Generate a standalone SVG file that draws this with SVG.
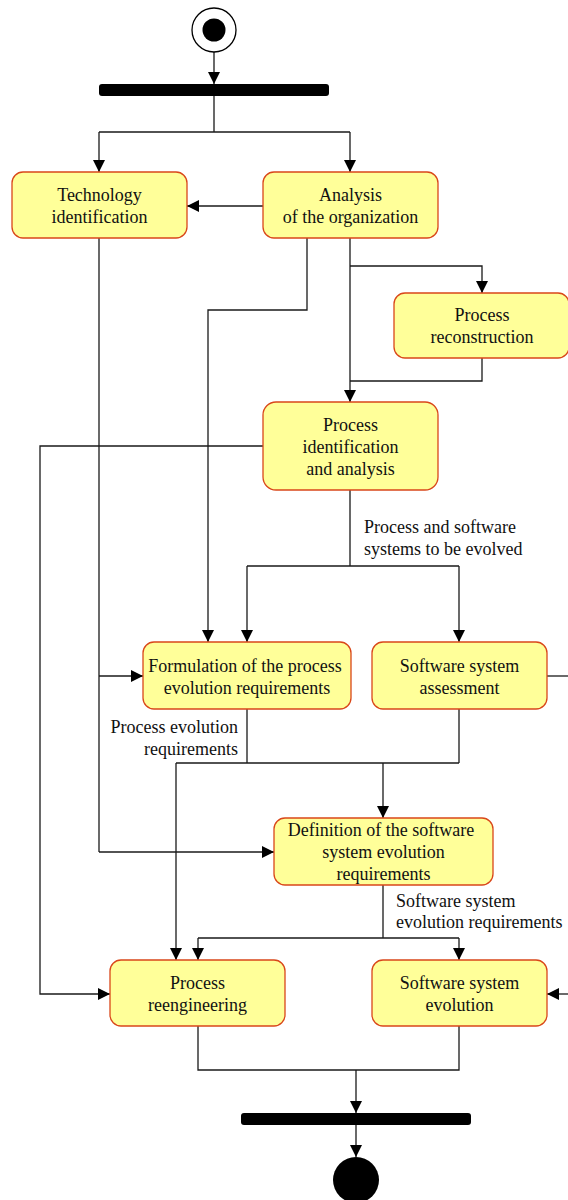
<svg xmlns="http://www.w3.org/2000/svg" width="568" height="1200" viewBox="0 0 568 1200">
  <style>
    .act { fill: #ffff99; stroke: #d9471a; stroke-width: 1.3; }
    .t { font-family: "Liberation Serif", "Times New Roman", serif; font-size: 18px; fill: #111; }
    .c { text-anchor: middle; }
    .e { text-anchor: end; }
    .ln { fill: none; stroke: #1a1a1a; stroke-width: 1.3; }
    .arr { marker-end: url(#head); }
    .bar { fill: #000; }
  </style>
  <defs>
    <marker id="head" markerUnits="userSpaceOnUse" markerWidth="12" markerHeight="12" viewBox="0 0 12 12" refX="12" refY="6" orient="auto">
      <path d="M0,0 L12,6 L0,12 z" fill="#000"/>
    </marker>
  </defs>
  <rect width="568" height="1200" fill="#fff"/>

  <!-- connectors -->
  <g id="connectors">
    <path class="ln arr" d="M214,52 V84"/>
    <path class="ln" d="M214,96 V132 M99,132 H350"/>
    <path class="ln arr" d="M99,132 V172"/>
    <path class="ln arr" d="M350,132 V172"/>
    <path class="ln arr" d="M263,206 H187"/>
    <path class="ln arr" d="M307,238 V310 H208 V642"/>
    <path class="ln arr" d="M350,238 V402"/>
    <path class="ln arr" d="M350,266 H482 V293"/>
    <path class="ln" d="M482,358 V381 H350"/>
    <path class="ln arr" d="M263,446 H40 V994 H110"/>
    <path class="ln" d="M99,238 V852"/>
    <path class="ln arr" d="M99,676 H143"/>
    <path class="ln arr" d="M99,852 H274"/>
    <path class="ln" d="M350,490 V566 M247,566 H459"/>
    <path class="ln arr" d="M247,566 V642"/>
    <path class="ln arr" d="M459,566 V642"/>
    <path class="ln" d="M547,676 H568"/>
    <path class="ln" d="M247,709 V763 M459,709 V763 M176,763 H459"/>
    <path class="ln arr" d="M176,763 V960"/>
    <path class="ln arr" d="M383,763 V818"/>
    <path class="ln" d="M383,885 V938 M198,938 H459"/>
    <path class="ln arr" d="M198,938 V960"/>
    <path class="ln arr" d="M459,938 V960"/>
    <path class="ln arr" d="M568,994 H547"/>
    <path class="ln" d="M198,1026 V1070 H459 V1026"/>
    <path class="ln arr" d="M356,1070 V1113"/>
    <path class="ln arr" d="M356,1125 V1157"/>
  </g>

  <!-- flow labels -->
  <g id="labels">
    <text class="t" x="364" y="533">Process and software</text>
    <text class="t" x="364" y="555">systems to be evolved</text>
    <text class="t e" x="238" y="733">Process evolution</text>
    <text class="t e" x="238" y="755">requirements</text>
    <text class="t" x="396" y="907">Software system</text>
    <text class="t" x="396" y="928">evolution requirements</text>
  </g>

  <!-- start / fork / join / end -->
  <g id="start">
    <circle cx="214" cy="30" r="22" fill="#fff" stroke="#000" stroke-width="1.3"/>
    <circle cx="214" cy="30" r="11.5" fill="#000"/>
  </g>
  <g id="fork"><rect class="bar" x="99" y="84" width="230" height="12" rx="3"/></g>
  <g id="join"><rect class="bar" x="241" y="1113" width="230" height="12" rx="3"/></g>
  <g id="end"><circle cx="356" cy="1180" r="23" fill="#000"/></g>

  <!-- activities -->
  <g id="technology-identification">
    <rect class="act" x="12" y="172" width="175" height="66" rx="11"/>
    <text class="t c" x="99.5" y="201">Technology</text>
    <text class="t c" x="99.5" y="223">identification</text>
  </g>
  <g id="analysis-of-organization">
    <rect class="act" x="263" y="172" width="175" height="66" rx="11"/>
    <text class="t c" x="350.5" y="201">Analysis</text>
    <text class="t c" x="350.5" y="223">of the organization</text>
  </g>
  <g id="process-reconstruction">
    <rect class="act" x="394" y="293" width="175" height="65" rx="11"/>
    <text class="t c" x="482" y="321">Process</text>
    <text class="t c" x="482" y="343">reconstruction</text>
  </g>
  <g id="process-identification">
    <rect class="act" x="263" y="402" width="175" height="88" rx="13"/>
    <text class="t c" x="350.5" y="431">Process</text>
    <text class="t c" x="350.5" y="453">identification</text>
    <text class="t c" x="350.5" y="475">and analysis</text>
  </g>
  <g id="formulation">
    <rect class="act" x="143" y="642" width="208" height="67" rx="11"/>
    <text class="t c" x="245" y="672">Formulation of the process</text>
    <text class="t c" x="247" y="694">evolution requirements</text>
  </g>
  <g id="software-assessment">
    <rect class="act" x="372" y="642" width="175" height="67" rx="11"/>
    <text class="t c" x="459.5" y="672">Software system</text>
    <text class="t c" x="459.5" y="694">assessment</text>
  </g>
  <g id="definition">
    <rect class="act" x="274" y="818" width="219" height="67" rx="11"/>
    <text class="t c" x="381" y="836">Definition of the software</text>
    <text class="t c" x="383.5" y="858">system evolution</text>
    <text class="t c" x="383.5" y="880">requirements</text>
  </g>
  <g id="process-reengineering">
    <rect class="act" x="110" y="960" width="175" height="66" rx="11"/>
    <text class="t c" x="197.5" y="989">Process</text>
    <text class="t c" x="197.5" y="1011">reengineering</text>
  </g>
  <g id="software-evolution">
    <rect class="act" x="372" y="960" width="175" height="66" rx="11"/>
    <text class="t c" x="459.5" y="989">Software system</text>
    <text class="t c" x="459.5" y="1011">evolution</text>
  </g>
</svg>
